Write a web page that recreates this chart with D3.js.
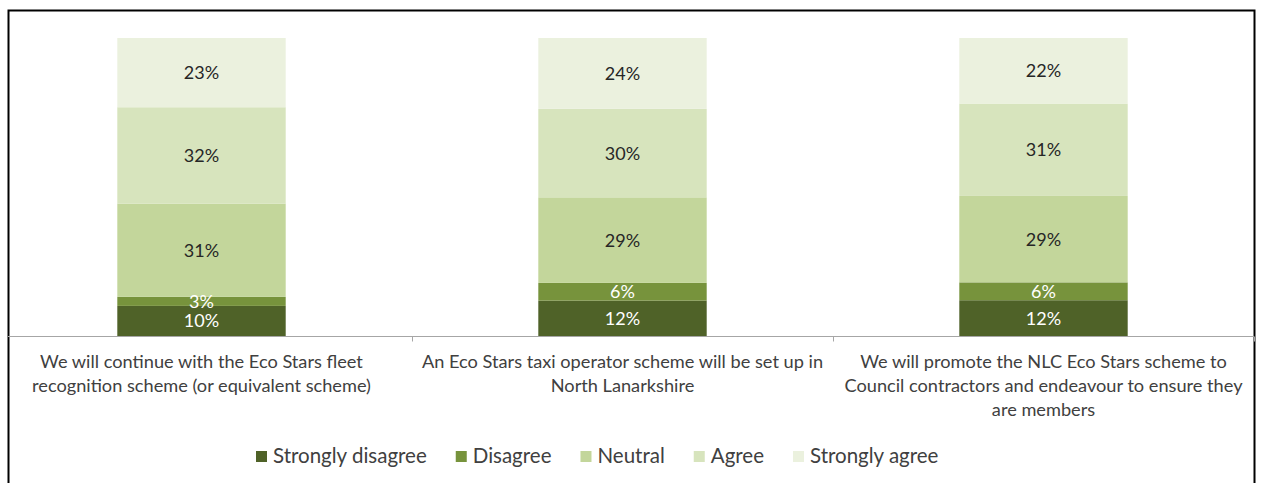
<!DOCTYPE html>
<html>
<head>
<meta charset="utf-8">
<script src="https://cdn.jsdelivr.net/npm/d3@7"></script>
<style>
  html, body { margin: 0; padding: 0; background: #fff; }
  svg { display: block; }
</style>
</head>
<body>
<svg id="chart" width="1261" height="483"></svg>
<script>
// Survey statements (one stacked bar each)
const statements = [
  ["We will continue with the Eco Stars fleet", "recognition scheme (or equivalent scheme)"],
  ["An Eco Stars taxi operator scheme will be set up in", "North Lanarkshire"],
  ["We will promote the NLC Eco Stars scheme to", "Council contractors and endeavour to ensure they", "are members"]
];

// Response levels, bottom to top of each bar
const responses = ["Strongly disagree", "Disagree", "Neutral", "Agree", "Strongly agree"];

// Percentages per response level, one value per statement
const stronglyDisagree = [10, 12, 12];
const disagree         = [3, 6, 6];
const neutral          = [31, 29, 29];
const agree            = [32, 30, 31];
const stronglyAgree    = [23, 24, 22];

const colours = ["#4f6228", "#77933c", "#c3d69b", "#d7e4bd", "#ebf1de"];
const labelColours = ["#ffffff", "#ffffff", "#262626", "#262626", "#262626"];

const seriesValues = [stronglyDisagree, disagree, neutral, agree, stronglyAgree];
const rows = statements.map((s, i) => {
  const r = { key: i };
  responses.forEach((name, j) => { r[name] = seriesValues[j][i]; });
  return r;
});

const svg = d3.select("#chart");
const font = "Lato, 'Open Sans', sans-serif";

// Outer frame
svg.append("rect")
  .attr("x", 8.5).attr("y", 10.5)
  .attr("width", 1246).attr("height", 490)
  .attr("fill", "none").attr("stroke", "#000").attr("stroke-width", 2);

const x = d3.scaleBand()
  .domain(rows.map(r => r.key))
  .range([-9, 1254])
  .paddingInner(0.6)
  .paddingOuter(0.3);

const y = d3.scaleLinear().domain([0, 1]).range([336, 38]);

// 100% stacked layout
const stack = d3.stack().keys(responses).offset(d3.stackOffsetExpand);
const layers = stack(rows);

const g = svg.append("g");
const layer = g.selectAll("g.layer").data(layers).join("g")
  .attr("class", "layer")
  .attr("fill", (d, i) => colours[i]);

layer.selectAll("rect").data(d => d).join("rect")
  .attr("x", d => x(d.data.key))
  .attr("width", x.bandwidth())
  .attr("y", d => y(d[1]))
  .attr("height", d => y(d[0]) - y(d[1]));

// Value labels at segment centres
layers.forEach((L, i) => {
  g.selectAll(null).data(L).join("text")
    .attr("x", d => x(d.data.key) + x.bandwidth() / 2)
    .attr("y", d => y((d[0] + d[1]) / 2))
    .attr("dy", "0.36em")
    .attr("text-anchor", "middle")
    .attr("font-family", font)
    .attr("font-size", 18)
    .attr("fill", labelColours[i])
    .text(d => d.data[L.key] + "%");
});

// Category axis with ticks between bands
const axisY = 336.5;
const step = x.step();
const bandEdges = [-9, ...rows.slice(1).map(r => x(r.key) - step * x.paddingInner() / 2), 1254];
svg.append("line")
  .attr("x1", 8).attr("x2", 1254)
  .attr("y1", axisY).attr("y2", axisY)
  .attr("stroke", "#a6a6a6").attr("stroke-width", 1);
svg.selectAll("line.tick").data(bandEdges.slice(1)).join("line")
  .attr("class", "tick")
  .attr("x1", d => Math.round(d) + 0.5).attr("x2", d => Math.round(d) + 0.5)
  .attr("y1", axisY).attr("y2", axisY + 5)
  .attr("stroke", "#a6a6a6").attr("stroke-width", 1);

// Category labels
const catText = svg.selectAll("text.cat").data(rows).join("text")
  .attr("class", "cat")
  .attr("text-anchor", "middle")
  .attr("font-family", font)
  .attr("font-size", 18.2)
  .attr("fill", "#404040");
catText.each(function(d, i) {
  const t = d3.select(this);
  statements[i].forEach((line, k) => {
    t.append("tspan")
      .attr("x", x(d.key) + x.bandwidth() / 2)
      .attr("y", 368 + k * 24)
      .text(line);
  });
});

// Legend
const legend = svg.append("g");
let lx = 256;
responses.forEach((name, i) => {
  const item = legend.append("g");
  item.append("rect")
    .attr("x", lx).attr("y", 451)
    .attr("width", 11).attr("height", 11)
    .attr("fill", colours[i]);
  const t = item.append("text")
    .attr("x", lx + 17).attr("y", 463)
    .attr("font-family", font)
    .attr("font-size", 20.5)
    .attr("fill", "#404040")
    .text(name);
  lx += 17 + t.node().getComputedTextLength() + 29;
});
</script>
</body>
</html>
